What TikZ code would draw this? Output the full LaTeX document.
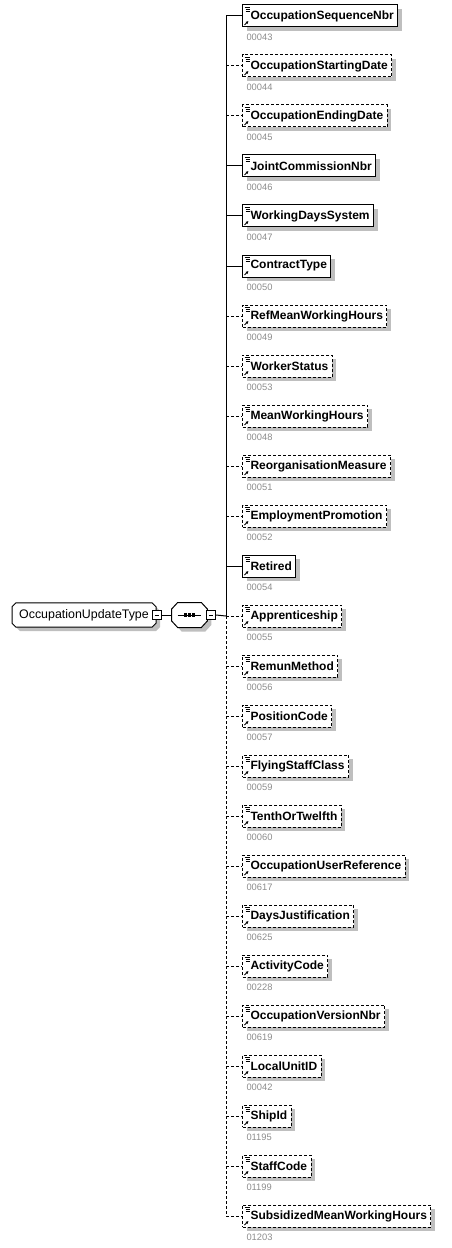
\documentclass[tikz,border=0pt]{standalone}
\usepackage{fontspec}
\setmainfont{Liberation Sans}
\usepackage{xcolor}
\usepackage{tikz}
\usetikzlibrary{shapes.misc, shadows, arrows.meta}

\definecolor{codegray}{HTML}{8C8C8C}
\tikzset{
  boxshadow/.style={general shadow={fill=black!25, shadow xshift=3pt, shadow yshift=-3pt}},
  elbox/.style={draw, fill=white, anchor=west, boxshadow, line width=0.75pt,
    minimum height=16.5pt, inner ysep=0pt, inner xsep=3pt,
    font=\bfseries\fontsize{9}{10}\selectfont,
    execute at begin node={\hspace{3pt}},
    path picture={
      \draw[solid, line width=0.5pt]
        ([shift={(2,2)}]path picture bounding box.north west) -- +(5,0)
        ([shift={(3,4)}]path picture bounding box.north west) -- +(4,0)
        ([shift={(3,6)}]path picture bounding box.north west) -- +(4,0);
      \draw[solid, line width=0.6pt, -{Latex[length=2pt,width=2.2pt]}]
        ([shift={(2,-2)}]path picture bounding box.south west) -- +(4,-4);
    }},
  codelbl/.style={anchor=west, inner sep=0pt, text=codegray, font=\fontsize{7}{8}\selectfont},
  minusbox/.style={draw, fill=white, line width=0.75pt, minimum size=6.5pt, inner sep=0pt,
    path picture={\draw ([xshift=1.5pt]path picture bounding box.west) -- ([xshift=-1.5pt]path picture bounding box.east);}},
  dashed/.style={dash pattern=on 2.25pt off 1.5pt},
}

\begin{document}
\begin{tikzpicture}[x=0.75pt, y=-0.75pt, line width=0.75pt]
  \useasboundingbox (0,0) rectangle (451,1248);

  % complex type and its sequence
  \node[draw, fill=white, boxshadow, chamfered rectangle, chamfered rectangle sep=1.5pt,
        minimum width=108pt, minimum height=15pt, inner xsep=0pt,
        font=\fontsize{9.3}{10}\selectfont] (otype) at (84,615) {OccupationUpdateType};
  \node[minusbox] (tmin) at (157,615) {};
  \node[minimum width=26pt, minimum height=18pt, inner sep=0pt] (seq) at (189.5,615) {};
  \draw[fill=white, boxshadow]
    ([xshift=4.5pt]seq.north west) -- ([xshift=-4.5pt]seq.north east)
    -- ([yshift=4.5pt]seq.east) -- ([yshift=-4.5pt]seq.east)
    -- ([xshift=-4.5pt]seq.south east) -- ([xshift=4.5pt]seq.south west)
    -- ([yshift=-4.5pt]seq.west) -- ([yshift=4.5pt]seq.west) -- cycle;
  \draw ([xshift=4.5pt]seq.west) -- ([xshift=-4.5pt]seq.east);
  \foreach \d in {-3,0,3}
    \fill ([xshift=\d pt]seq.center) +(-1.15pt,-1.15pt) rectangle +(1.15pt,1.15pt);
  \node[minusbox] (smin) at (211,615) {};
  \draw (tmin.east) -- (seq.west);

  % elements of the sequence
  \foreach \i/\elname/\code/\dsh in {
    1/OccupationSequenceNbr/00043/solid,
    2/OccupationStartingDate/00044/dashed,
    3/OccupationEndingDate/00045/dashed,
    4/JointCommissionNbr/00046/solid,
    5/WorkingDaysSystem/00047/solid,
    6/ContractType/00050/solid,
    7/RefMeanWorkingHours/00049/dashed,
    8/WorkerStatus/00053/dashed,
    9/MeanWorkingHours/00048/dashed,
    10/ReorganisationMeasure/00051/dashed,
    11/EmploymentPromotion/00052/dashed,
    12/Retired/00054/solid,
    13/Apprenticeship/00055/dashed,
    14/RemunMethod/00056/dashed,
    15/PositionCode/00057/dashed,
    16/FlyingStaffClass/00059/dashed,
    17/TenthOrTwelfth/00060/dashed,
    18/OccupationUserReference/00617/dashed,
    19/DaysJustification/00625/dashed,
    20/ActivityCode/00228/dashed,
    21/OccupationVersionNbr/00619/dashed,
    22/LocalUnitID/00042/dashed,
    23/ShipId/01195/dashed,
    24/StaffCode/01199/dashed,
    25/SubsidizedMeanWorkingHours/01203/dashed}{
    \pgfmathsetmacro\yy{16+50*(\i-1)}
    \coordinate (t\i) at (226,\yy);
    \node[elbox, \dsh] (e\i) at (242,\yy) {\elname};
    \node[codelbl] (c\i) at (246,\yy+21) {\code};
    \draw[\dsh] (t\i) -- (e\i.west);
  }

  \draw (t1) -- (t13);
  \draw[dashed] (t13) -- (t25);
  \draw (smin.east) -- (t13);
\end{tikzpicture}
\end{document}
